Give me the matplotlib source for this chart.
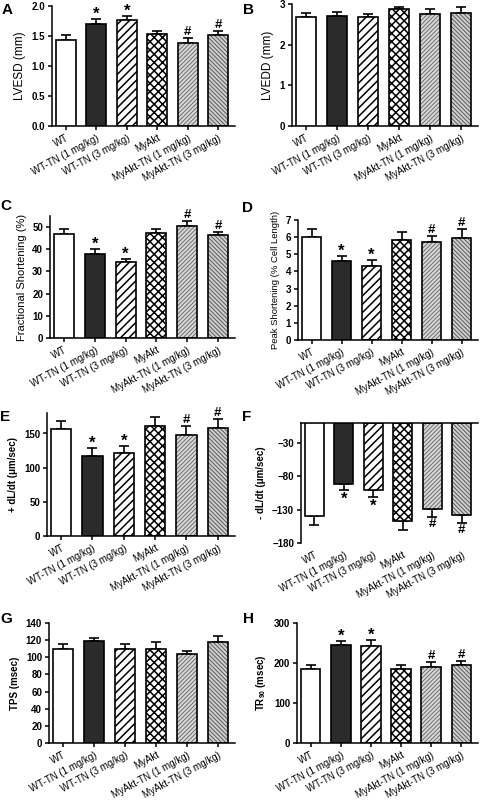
import matplotlib
matplotlib.use("Agg")
import matplotlib.pyplot as plt
import numpy as np

plt.rcParams.update({
    "font.family": "sans-serif",
    "font.sans-serif": ["Liberation Sans", "DejaVu Sans"],
    "mathtext.fontset": "custom",
    "mathtext.rm": "Liberation Sans:bold",
    "mathtext.default": "rm",
    "axes.linewidth": 1.1,
})

GROUPS = ["WT", "WT-TN (1 mg/kg)", "WT-TN (3 mg/kg)", "MyAkt",
          "MyAkt-TN (1 mg/kg)", "MyAkt-TN (3 mg/kg)"]

# mean and SEM per panel
lvesd_mean = [1.43, 1.70, 1.77, 1.53, 1.38, 1.51]
lvesd_sem = [0.09, 0.08, 0.06, 0.05, 0.09, 0.07]
lvesd_mark = ["", "*", "*", "", "#", "#"]

lvedd_mean = [2.69, 2.71, 2.69, 2.87, 2.75, 2.77]
lvedd_sem = [0.10, 0.09, 0.07, 0.06, 0.12, 0.16]
lvedd_mark = ["", "", "", "", "", ""]

fs_mean = [46.7, 37.8, 34.3, 47.3, 50.3, 46.3]
fs_sem = [2.3, 2.5, 1.5, 1.7, 2.4, 1.5]
fs_mark = ["", "*", "*", "", "#", "#"]

ps_mean = [6.03, 4.63, 4.32, 5.85, 5.72, 5.93]
ps_sem = [0.43, 0.27, 0.35, 0.47, 0.37, 0.53]
ps_mark = ["", "*", "*", "", "#", "#"]

pdl_mean = [157, 117, 121, 161, 148, 158]
pdl_sem = [11, 12, 11, 13, 13, 13]
pdl_mark = ["", "*", "*", "", "#", "#"]

ndl_mean = [-140, -91.5, -100, -147.5, -128.5, -137.5]
ndl_sem = [13.5, 9.5, 11.5, 13.5, 12.5, 12.5]
ndl_mark = ["", "*", "*", "", "#", "#"]

tps_mean = [110, 119, 110, 110, 104, 118]
tps_sem = [5, 4, 6, 8, 3, 7]
tps_mark = ["", "", "", "", "", ""]

tr90_mean = [185, 246, 243, 184, 190, 194]
tr90_sem = [10, 9, 15, 12, 12, 12]
tr90_mark = ["", "*", "*", "", "#", "#"]

# bar looks: (face, hatch, hatch colour, hatch width)
STYLES = [
    ("white", "", "black", 1.0),
    ("#2b2b2b", "", "black", 1.0),
    ("white", "////", "black", 1.1),
    ("white", "xxxx", "black", 1.1),
    ("#d9d9d9", "////////", "#6e6e6e", 0.7),
    ("#cfcfcf", "\\\\\\\\\\\\\\\\", "#5a5a5a", 0.7),
]

W, H = 480, 805
fig = plt.figure(figsize=(W / 100, H / 100), dpi=100)


def rect(l, r, t, b):
    return [l / W, 1 - b / H, (r - l) / W, (b - t) / H]


def panel(box, mean, sem, marks, ylim, yticks, ylabel, letter, letter_xy,
          lab_size=8.5, lab_bold=False, neg=False, yfmt=None):
    ax = fig.add_axes(rect(*box))
    x = np.arange(len(GROUPS))
    for i, (fc, hatch, hc, hlw) in enumerate(STYLES):
        if hatch:
            with plt.rc_context({"hatch.linewidth": hlw}):
                ax.bar(x[i], mean[i], width=0.65, color=fc, edgecolor=hc,
                       hatch=hatch, linewidth=0, zorder=2)
            ax.bar(x[i], mean[i], width=0.65, fill=False, edgecolor="black",
                   linewidth=1.2, zorder=3)
        else:
            ax.bar(x[i], mean[i], width=0.65, color=fc, edgecolor="black",
                   linewidth=1.2, zorder=3)
    zeros = np.zeros(len(x))
    yerr = [sem, zeros] if neg else [zeros, sem]
    ax.errorbar(x, mean, yerr=yerr, fmt="none", ecolor="black",
                elinewidth=1.2, capsize=3.6, capthick=1.2, zorder=1)
    for i, m in enumerate(marks):
        if not m:
            continue
        size = 12 if m == "*" else 9.5
        if neg:
            ax.annotate(m, (x[i], mean[i] - sem[i]), xytext=(0, -1),
                        textcoords="offset points", ha="center", va="top",
                        fontsize=size, fontweight="bold")
        else:
            ax.annotate(m, (x[i], mean[i] + sem[i]),
                        xytext=(0, -2 if m == "*" else 0),
                        textcoords="offset points", ha="center",
                        va="bottom", fontsize=size, fontweight="bold")

    ax.set_xlim(-0.45, 5.55)
    ax.set_ylim(*ylim)
    ax.set_yticks(yticks)
    if yfmt:
        ax.set_yticklabels([yfmt.format(v) for v in yticks])
    ax.set_xticks(x)
    ax.set_xticklabels(GROUPS, rotation=28, ha="right",
                       rotation_mode="anchor", fontsize=7)
    ax.spines["right"].set_visible(False)
    if neg:
        ax.spines["bottom"].set_visible(False)
        ax.tick_params(axis="x", length=0, pad=5)
    else:
        ax.spines["top"].set_visible(False)
        ax.tick_params(axis="x", length=3, width=1.1, pad=2)
    ax.tick_params(axis="y", length=3, width=1.1, labelsize=7, pad=2)
    for lab in ax.get_yticklabels():
        lab.set_fontweight("bold")
    ax.set_ylabel(ylabel, fontsize=lab_size,
                  fontweight="bold" if lab_bold else "normal", labelpad=4)
    fig.text(letter_xy[0] / W, 1 - letter_xy[1] / H, letter, fontsize=11,
             fontweight="bold", va="top", ha="left")
    return ax


panel((52, 235, 6, 126), lvesd_mean, lvesd_sem, lvesd_mark, (0, 2.0),
      [0, 0.5, 1.0, 1.5, 2.0], "LVESD (mm)", "A", (2, 3), yfmt="{:.1f}")
panel((292, 478, 4, 126), lvedd_mean, lvedd_sem, lvedd_mark, (0, 3),
      [0, 1, 2, 3], "LVEDD (mm)", "B", (243, 3))
panel((50, 235, 216, 338), fs_mean, fs_sem, fs_mark, (0, 55),
      [0, 10, 20, 30, 40, 50], "Fractional Shortening (%)", "C", (0, 199),
      lab_size=8)
panel((298, 478, 220, 340), ps_mean, ps_sem, ps_mark, (0, 7),
      list(range(8)), "Peak Shortening (% Cell Length)", "D", (242, 201),
      lab_size=6.8)
panel((47, 235, 413, 536), pdl_mean, pdl_sem, pdl_mark, (0, 180),
      [0, 50, 100, 150], "+ dL/dt (μm/sec)", "E", (0, 410),
      lab_size=7, lab_bold=True)
panel((301, 478, 423, 543), ndl_mean, ndl_sem, ndl_mark, (-180, 0),
      [-180, -130, -80, -30], "- dL/dt (μm/sec)", "F", (242, 410),
      lab_size=7, lab_bold=True, neg=True)
panel((49, 235, 623, 743), tps_mean, tps_sem, tps_mark, (0, 140),
      list(range(0, 141, 20)), "TPS (msec)", "G", (0, 612),
      lab_size=7, lab_bold=True)
panel((297, 478, 623, 743), tr90_mean, tr90_sem, tr90_mark, (0, 300),
      [0, 100, 200, 300], "TR$_{90}$ (msec)", "H", (243, 612),
      lab_size=7, lab_bold=True)

fig.savefig("out.png", dpi=100)
